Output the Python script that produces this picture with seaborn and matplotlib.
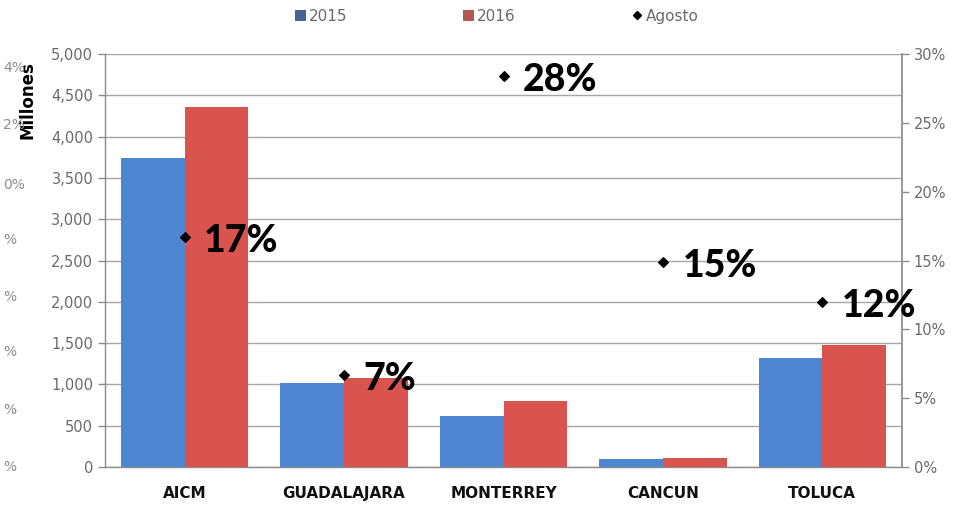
import pandas as pd
import numpy as np
import matplotlib.pyplot as plt
import seaborn as sns
from matplotlib.patches import Patch
from matplotlib.lines import Line2D
from matplotlib.ticker import FuncFormatter, MultipleLocator

# data
aeropuertos = ['AICM', 'GUADALAJARA', 'MONTERREY', 'CANCUN', 'TOLUCA']
valores_2015 = [3740, 1015, 615, 95, 1320]
valores_2016 = [4360, 1075, 800, 110, 1475]
agosto_pct = [16.7, 6.7, 28.4, 14.9, 12.0]
agosto_txt = ['17%', '7%', '28%', '15%', '12%']
restos_izq = ['4%', '2%', '0%', '%', '%', '%', '%', '%']

azul = '#4f86d2'
rojo = '#d9534f'
gris = '#6a6a6a'

df = pd.DataFrame({
    'Aeropuerto': aeropuertos * 2,
    'Año': ['2015'] * 5 + ['2016'] * 5,
    'Millones': valores_2015 + valores_2016,
})

sns.set_theme(style='white')
plt.rcParams['font.family'] = ['DejaVu Sans']

fig = plt.figure(figsize=(9.61, 5.05), dpi=100)
ax = fig.add_axes([0.1093, 0.0752, 0.8293, 0.8178])

sns.barplot(data=df, x='Aeropuerto', y='Millones', hue='Año',
            palette=[azul, rojo], width=0.8, saturation=1,
            edgecolor='none', legend=False, ax=ax, zorder=3)

ax.set_ylim(0, 5000)
ax.set_xlim(-0.5, 4.5)
ax.yaxis.set_major_locator(MultipleLocator(500))
ax.yaxis.set_major_formatter(FuncFormatter(lambda v, p: f'{int(v):,}'))
ax.grid(axis='y', color='#a6a6a6', linewidth=1, zorder=0)
ax.set_axisbelow(True)
ax.set_xlabel('')
ax.set_ylabel('')
ax.tick_params(axis='y', colors='#8c8c8c', labelcolor=gris, labelsize=10.5,
               left=True, length=5, width=1, direction='out')
ax.set_xticks(range(5))
ax.set_xticklabels(aeropuertos, fontweight='bold', fontsize=11, color='#111111')
ax.tick_params(axis='x', length=0, pad=14)
ax.set_xticks(np.arange(-0.5, 5.0, 1.0), minor=True)
ax.tick_params(axis='x', which='minor', length=5, color='#8c8c8c', direction='out')
for s in ['top', 'right']:
    ax.spines[s].set_visible(False)
for s in ['left', 'bottom']:
    ax.spines[s].set_color('#8c8c8c')
    ax.spines[s].set_linewidth(1)

ax2 = ax.twinx()
ax2.scatter(range(5), agosto_pct, marker='D', s=24, color='black', zorder=5)
for i, (v, t) in enumerate(zip(agosto_pct, agosto_txt)):
    ax2.annotate(t, (i, v), xytext=(14, -3), textcoords='offset points',
                 ha='left', va='center', fontsize=27, fontweight='black',
                 color='black', family=['Lato', 'DejaVu Sans'])
ax2.set_ylim(0, 30)
ax2.yaxis.set_major_locator(MultipleLocator(5))
ax2.yaxis.set_major_formatter(FuncFormatter(lambda v, p: f'{int(v)}%'))
ax2.tick_params(axis='y', colors='#8c8c8c', labelcolor=gris, labelsize=10.5,
                right=True, length=5, width=1, direction='out')
for s in ['top', 'left', 'bottom']:
    ax2.spines[s].set_visible(False)
ax2.spines['right'].set_color('#8c8c8c')
ax2.set_ylabel('')

fig.text(0.029, 1 - 100 / 505, 'Millones', rotation=90, fontweight='bold',
         fontsize=12, color='black', ha='center', va='center')

# leftover labels from another chart at the far left edge (overlap as in the source)
ys = [68, 125, 185, 240, 297, 352, 410, 467]
for t, y in zip(restos_izq, ys):
    fig.text(0.003, 1 - y / 505, t, fontsize=10, color='#8c8c8c',
             ha='left', va='center')

handles = [Patch(facecolor='#4a6296', edgecolor='none'),
           Patch(facecolor='#b25656', edgecolor='none'),
           Line2D([], [], marker='D', linestyle='none', color='black', markersize=4)]
fig.legend(handles, ['2015', '2016', 'Agosto'], loc='center',
           bbox_to_anchor=(0.517, 0.968), ncol=3, frameon=False,
           handlelength=0.7, handleheight=0.7, handletextpad=0.2,
           columnspacing=7.6, fontsize=11, labelcolor=gris)

fig.savefig('out.png', dpi=100)
